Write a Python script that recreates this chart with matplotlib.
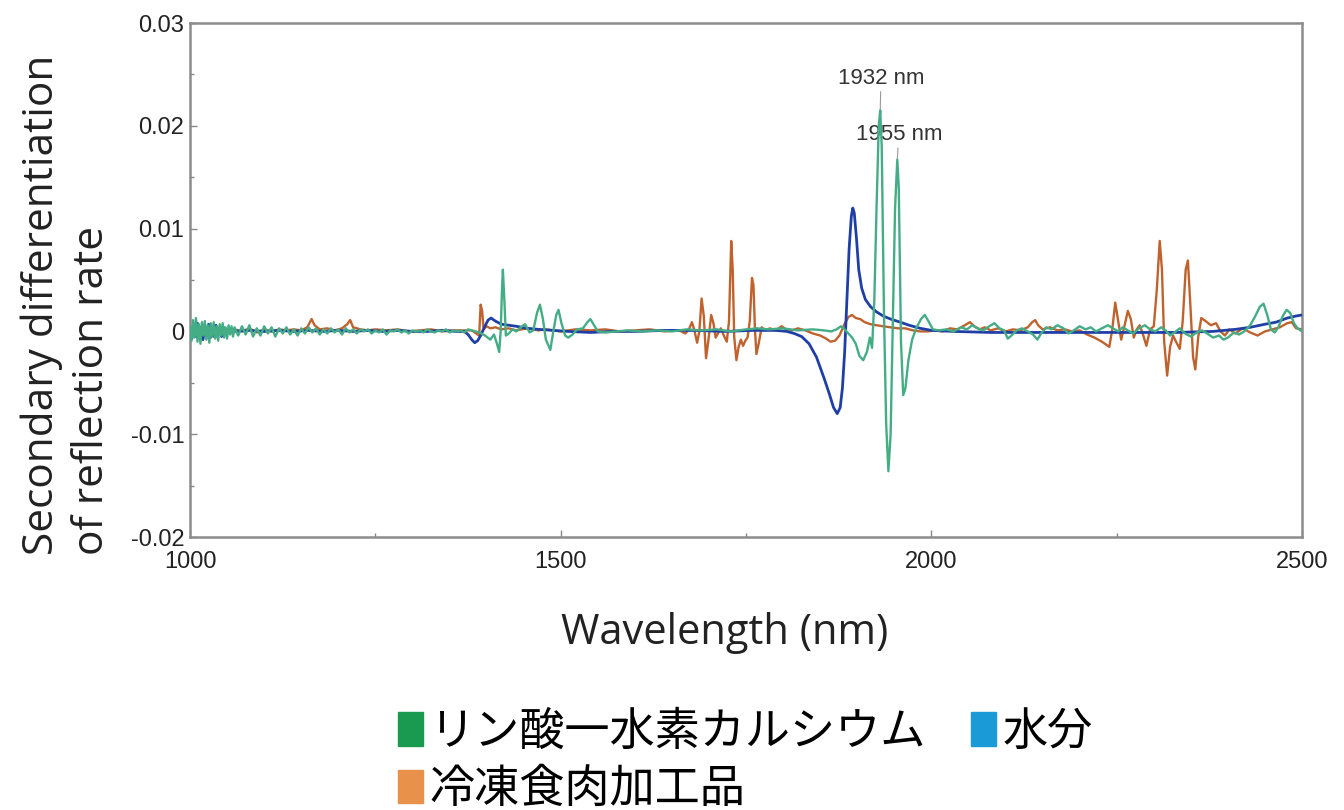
import numpy as np
import matplotlib.pyplot as plt
from matplotlib.patches import Patch
from matplotlib.ticker import MultipleLocator

# calcium hydrogen phosphate (green)
green_wl = [1000, 1002, 1004, 1006, 1008, 1010, 1012, 1014, 1016, 1018, 1020, 1022, 1024, 1026, 1028,
            1030, 1032, 1034, 1036, 1038, 1040, 1042, 1044, 1046, 1048, 1050, 1052, 1054, 1056, 1058,
            1060, 1065, 1070, 1075, 1080, 1085, 1090, 1095, 1100, 1105, 1110, 1115, 1120, 1125, 1130,
            1135, 1140, 1145, 1150, 1155, 1160, 1165, 1170, 1175, 1180, 1185, 1190, 1195, 1200, 1205,
            1210, 1215, 1220, 1225, 1230, 1235, 1240, 1245, 1250, 1255, 1260, 1265, 1270, 1275, 1280,
            1285, 1290, 1295, 1300, 1305, 1310, 1315, 1320, 1325, 1330, 1335, 1340, 1345, 1350, 1355,
            1360, 1365, 1370, 1375, 1380, 1390, 1398, 1405, 1410, 1414, 1417, 1419, 1421, 1422, 1424,
            1426, 1430, 1435, 1440, 1446, 1452, 1458, 1463, 1468, 1472, 1476, 1480, 1486, 1490, 1494,
            1497, 1501, 1506, 1510, 1516, 1522, 1530, 1536, 1540, 1545, 1550, 1560, 1575, 1590, 1610,
            1630, 1650, 1670, 1690, 1710, 1730, 1750, 1765, 1780, 1800, 1820, 1840, 1855, 1865, 1872,
            1878, 1883, 1888, 1893, 1898, 1903, 1908, 1913, 1917, 1920, 1923, 1926, 1929, 1931, 1933,
            1936, 1939, 1942, 1945, 1948, 1951, 1954, 1956, 1959, 1962, 1965, 1969, 1974, 1980, 1986,
            1991, 1996, 2002, 2010, 2020, 2030, 2040, 2048, 2055, 2062, 2070, 2078, 2085, 2092, 2098,
            2103, 2108, 2115, 2122, 2130, 2137, 2143, 2148, 2155, 2162, 2170, 2178, 2185, 2192, 2200,
            2208, 2215, 2222, 2230, 2238, 2245, 2252, 2258, 2265, 2272, 2280, 2288, 2295, 2302, 2310,
            2316, 2322, 2328, 2335, 2342, 2350, 2358, 2365, 2372, 2380, 2388, 2394, 2400, 2408, 2415,
            2422, 2430, 2437, 2443, 2448, 2453, 2458, 2463, 2468, 2474, 2479, 2484, 2489, 2494, 2500]
green_val = [0.0004, -0.0009, 0.0011, -0.0006, 0.0013, -0.0010, 0.0007, -0.0012, 0.0009, -0.0004,
             0.0010, -0.0008, 0.0006, -0.0011, 0.0008, -0.0005, 0.0009, -0.0007, 0.0005, -0.0009,
             0.0007, -0.0004, 0.0008, -0.0006, 0.0004, -0.0007, 0.0006, -0.0003, 0.0005, -0.0005,
             0.0004, -0.0004, 0.0005, -0.0003, 0.0006, -0.0005, 0.0003, -0.0004, 0.0005, -0.0002,
             0.0004, -0.0005, 0.0003, -0.0002, 0.0004, -0.0003, 0.0002, -0.0004, 0.0003, -0.0002,
             0.0004, -0.0001, 0.0003, -0.0003, 0.0002, -0.0002, 0.0003, -0.0001, 0.0002, -0.0003,
             0.0003, -0.0001, 0.0002, -0.0002, 0.0002, 0.0000, 0.0002, -0.0002, 0.0001, -0.0001,
             0.0002, -0.0003, 0.0001, 0.0000, 0.0002, -0.0001, 0.0001, -0.0002, 0.0001, 0.0000,
             0.0001, -0.0001, 0.0002, 0.0000, -0.0001, 0.0001, 0.0000, 0.0002, -0.0001, 0.0001,
             0.0000, 0.0001, -0.0001, 0.0002, 0.0001, -0.0001, -0.0004, -0.0008, -0.0003, -0.0012,
             -0.0020, 0.0000, 0.0045, 0.0060, 0.0030, -0.0004, -0.0002, 0.0002, 0.0000, 0.0004,
             0.0007, -0.0001, 0.0001, 0.0018, 0.0026, 0.0012, -0.0008, -0.0018, 0.0000, 0.0016,
             0.0021, 0.0008, -0.0004, -0.0006, -0.0003, 0.0002, 0.0003, 0.0009, 0.0012, 0.0006,
             0.0000, -0.0001, 0.0000, 0.0001, 0.0000, 0.0001, 0.0000, 0.0002, 0.0001, 0.0002,
             0.0000, 0.0002, 0.0003, 0.0002, 0.0003, 0.0001, 0.0002, 0.0001, 0.0000, 0.0002,
             0.0005, 0.0002, -0.0002, -0.0006, -0.0012, -0.0024, -0.0028, -0.0020, -0.0006, -0.0016,
             0.0030, 0.0120, 0.0200, 0.0215, 0.0180, 0.0020, -0.0090, -0.0136, -0.0100, 0.0010,
             0.0120, 0.0167, 0.0140, -0.0010, -0.0062, -0.0055, -0.0028, -0.0008, 0.0004, 0.0012,
             0.0016, 0.0010, 0.0002, 0.0001, 0.0002, 0.0000, 0.0004, 0.0002, 0.0006, 0.0003,
             0.0001, 0.0005, 0.0008, 0.0003, 0.0001, -0.0007, -0.0004, 0.0001, 0.0003, 0.0000,
             -0.0003, -0.0008, -0.0002, 0.0004, 0.0002, 0.0006, 0.0003, -0.0002, 0.0001, 0.0005,
             0.0002, 0.0004, 0.0000, 0.0003, 0.0006, 0.0003, 0.0000, 0.0004, 0.0001, -0.0002,
             0.0003, 0.0006, 0.0002, 0.0000, 0.0004, 0.0001, -0.0004, -0.0001, 0.0003, -0.0002,
             -0.0005, -0.0001, 0.0001, -0.0002, -0.0006, -0.0004, -0.0008, -0.0006, -0.0001, -0.0003,
             0.0000, 0.0006, 0.0015, 0.0024, 0.0027, 0.0016, 0.0002, -0.0001, 0.0004, 0.0015,
             0.0021, 0.0018, 0.0008, 0.0003, 0.0000]

# frozen processed meat (orange)
orange_wl = [1000, 1010, 1020, 1030, 1040, 1050, 1060, 1070, 1080, 1090, 1100, 1110, 1120, 1130, 1140,
             1150, 1158, 1164, 1168, 1175, 1185, 1195, 1205, 1212, 1216, 1220, 1230, 1240, 1250, 1265,
             1280, 1295, 1310, 1325, 1340, 1355, 1370, 1380, 1386, 1390, 1392, 1394, 1396, 1400, 1405,
             1412, 1420, 1430, 1440, 1455, 1470, 1480, 1500, 1520, 1540, 1560, 1580, 1600, 1620, 1640,
             1655, 1660, 1668, 1673, 1677, 1680, 1684, 1687, 1690, 1693, 1696, 1699, 1703, 1706, 1709,
             1712, 1716, 1720, 1724, 1727, 1730, 1732, 1734, 1737, 1740, 1743, 1746, 1749, 1752, 1755,
             1758, 1760, 1762, 1764, 1767, 1771, 1776, 1782, 1790, 1798, 1804, 1812, 1820, 1830, 1840,
             1850, 1858, 1864, 1870, 1876, 1882, 1888, 1893, 1898, 1904, 1910, 1918, 1926, 1935, 1945,
             1955, 1965, 1975, 1985, 1995, 2005, 2015, 2025, 2035, 2045, 2052, 2058, 2065, 2072, 2080,
             2090, 2100, 2110, 2120, 2130, 2136, 2140, 2144, 2150, 2160, 2170, 2180, 2190, 2200, 2210,
             2220, 2230, 2236, 2240, 2244, 2248, 2252, 2256, 2260, 2265, 2269, 2273, 2277, 2281, 2285,
             2290, 2295, 2300, 2304, 2308, 2311, 2314, 2318, 2322, 2326, 2330, 2335, 2339, 2343, 2346,
             2349, 2353, 2356, 2360, 2364, 2370, 2377, 2384, 2390, 2396, 2402, 2410, 2420, 2430, 2440,
             2450, 2460, 2470, 2480, 2486, 2492, 2500]
orange_val = [0.0002, -0.0003, 0.0003, -0.0002, 0.0004, -0.0001, 0.0002, 0.0000, 0.0003, -0.0001,
              0.0002, 0.0000, 0.0002, 0.0001, 0.0002, 0.0001, 0.0004, 0.0012, 0.0006, 0.0002,
              0.0003, 0.0001, 0.0003, 0.0007, 0.0011, 0.0004, 0.0002, 0.0001, 0.0002, 0.0001,
              0.0002, 0.0000, 0.0001, 0.0002, 0.0000, 0.0001, 0.0001, 0.0001, -0.0002, -0.0004,
              0.0026, 0.0020, 0.0002, 0.0005, 0.0003, 0.0004, 0.0002, 0.0003, 0.0001, 0.0003,
              0.0001, 0.0002, 0.0000, 0.0002, 0.0001, 0.0002, 0.0000, 0.0001, 0.0002, 0.0000,
              0.0001, 0.0001, -0.0002, 0.0002, 0.0009, 0.0002, -0.0011, 0.0000, 0.0032, 0.0015,
              -0.0026, -0.0010, 0.0016, 0.0008, -0.0006, -0.0002, 0.0003, -0.0004, -0.0010, 0.0010,
              0.0088, 0.0060, -0.0005, -0.0028, -0.0015, -0.0008, -0.0014, -0.0009, -0.0006, 0.0010,
              0.0052, 0.0045, 0.0002, -0.0022, -0.0012, 0.0004, 0.0001, 0.0003, 0.0001, 0.0005,
              0.0002, 0.0001, 0.0003, 0.0001, -0.0002, -0.0004, -0.0007, -0.0010, -0.0009, -0.0004,
              0.0006, 0.0014, 0.0016, 0.0013, 0.0012, 0.0009, 0.0007, 0.0006, 0.0005, 0.0004,
              0.0003, 0.0003, 0.0001, 0.0000, 0.0000, 0.0001, 0.0000, 0.0003, 0.0002, 0.0006,
              0.0009, 0.0005, 0.0002, 0.0004, 0.0001, 0.0003, 0.0000, 0.0002, 0.0001, 0.0004,
              0.0009, 0.0011, 0.0006, 0.0002, 0.0004, 0.0001, 0.0002, 0.0000, 0.0001, -0.0003,
              -0.0006, -0.0010, -0.0013, -0.0015, 0.0002, 0.0028, 0.0010, -0.0008, 0.0004, 0.0020,
              0.0012, -0.0006, 0.0002, 0.0006, -0.0002, -0.0014, 0.0002, 0.0005, 0.0040, 0.0088,
              0.0060, -0.0010, -0.0043, -0.0015, -0.0004, -0.0010, -0.0017, 0.0010, 0.0060, 0.0069,
              0.0030, -0.0025, -0.0037, -0.0005, 0.0013, 0.0010, 0.0006, 0.0008, 0.0000, -0.0004,
              0.0002, -0.0002, 0.0003, -0.0001, -0.0004, 0.0000, 0.0002, 0.0004, 0.0008, 0.0009,
              0.0003, 0.0002]

# water (blue)
blue_wl = [1000, 1002.5, 1005, 1007.5, 1010, 1012.5, 1015, 1017.5, 1020, 1022.5, 1025, 1027.5, 1030,
           1032.5, 1035, 1037.5, 1040, 1042.5, 1045, 1047.5, 1050, 1060, 1080, 1100, 1120, 1140, 1160,
           1180, 1200, 1220, 1240, 1260, 1280, 1300, 1320, 1340, 1360, 1370, 1375, 1380, 1384, 1388,
           1392, 1397, 1402, 1406, 1412, 1420, 1430, 1440, 1455, 1470, 1490, 1510, 1540, 1570, 1600,
           1640, 1680, 1720, 1760, 1790, 1805, 1815, 1825, 1835, 1845, 1855, 1862, 1868, 1873, 1877,
           1880, 1883, 1886, 1889, 1892, 1894, 1896, 1899, 1902, 1906, 1911, 1918, 1926, 1935, 1945,
           1958, 1970, 1985, 2000, 2030, 2080, 2130, 2180, 2230, 2280, 2330, 2380, 2410, 2430, 2450,
           2465, 2480, 2492, 2500]
blue_val = [0.0003, -0.0007, 0.0006, -0.0005, 0.0008, -0.0006, 0.0004, -0.0008, 0.0005, -0.0003,
            0.0007, -0.0006, 0.0004, -0.0005, 0.0006, -0.0004, 0.0003, -0.0005, 0.0004, -0.0002,
            0.0002, 0.0000, 0.0001, 0.0000, 0.0001, 0.0000, 0.0001, 0.0000, 0.0001, 0.0000,
            0.0001, 0.0000, 0.0001, 0.0000, 0.0000, 0.0001, 0.0000, 0.0000, -0.0003, -0.0008,
            -0.0011, -0.0009, -0.0004, 0.0004, 0.0011, 0.0013, 0.0010, 0.0007, 0.0006, 0.0005,
            0.0003, 0.0002, 0.0001, 0.0000, -0.0001, 0.0000, 0.0000, 0.0001, 0.0001, 0.0000,
            0.0001, 0.0001, 0.0000, -0.0002, -0.0005, -0.0012, -0.0025, -0.0045, -0.0060, -0.0074,
            -0.0080, -0.0074, -0.0055, -0.0020, 0.0030, 0.0080, 0.0112, 0.0120, 0.0115, 0.0090,
            0.0060, 0.0042, 0.0031, 0.0024, 0.0019, 0.0015, 0.0012, 0.0009, 0.0006, 0.0003,
            0.0001, 0.0000, -0.0001, -0.0001, -0.0001, -0.0001, -0.0001, -0.0001, 0.0000, 0.0002,
            0.0004, 0.0007, 0.0009, 0.0013, 0.0015, 0.0016]

legend_labels = ['リン酸一水素カルシウム', '水分', '冷凍食肉加工品']
peak_labels = ['1932 nm', '1955 nm']

fig = plt.figure(figsize=(13.44, 8.1), dpi=100)
ax = fig.add_axes([0.1414, 0.337, 0.8274, 0.6346])

ax.plot(orange_wl, orange_val, color='#c0622e', lw=1.7, zorder=2)
ax.plot(blue_wl, blue_val, color='#1f3fa6', lw=2.0, zorder=3)
ax.plot(green_wl, green_val, color='#45ad86', lw=1.7, zorder=4)

# peak labels with thin gray leader lines
ax.annotate(peak_labels[0], xy=(1931, 0.0215), xytext=(1932, 0.0236),
            ha='center', va='bottom', fontsize=16, family='Liberation Sans', color='#333333',
            arrowprops=dict(arrowstyle='-', color='#999999', lw=0.8, shrinkA=0, shrinkB=0))
ax.annotate(peak_labels[1], xy=(1954, 0.0167), xytext=(1956, 0.0181),
            ha='center', va='bottom', fontsize=16, family='Liberation Sans', color='#333333',
            arrowprops=dict(arrowstyle='-', color='#999999', lw=0.8, shrinkA=0, shrinkB=0))

ax.set_xlim(1000, 2500)
ax.set_ylim(-0.02, 0.03)
ax.set_xticks([1000, 1500, 2000, 2500])
ax.set_yticks([-0.02, -0.01, 0, 0.01, 0.02, 0.03])
ax.set_yticklabels(['-0.02', '-0.01', '0', '0.01', '0.02', '0.03'])
ax.xaxis.set_minor_locator(MultipleLocator(250))
ax.yaxis.set_minor_locator(MultipleLocator(0.005))
ax.tick_params(which='both', direction='in', color='#888888', labelsize=17,
               labelcolor='#222222')
ax.tick_params(which='major', length=5, width=1)
ax.tick_params(which='minor', length=3, width=1)
ax.tick_params(axis='x', pad=10)
ax.tick_params(axis='y', pad=4)
for lab in ax.get_xticklabels() + ax.get_yticklabels():
    lab.set_family('Liberation Sans')
for sp in ax.spines.values():
    sp.set_color('#8c8c8c')
    sp.set_linewidth(1.8)

fig.text(0.539, 0.219, 'Wavelength (nm)', ha='center', va='center', fontsize=30,
         family='Open Sans', color='#222222')
fig.text(0.050, 0.624, 'Secondary differentiation\nof reflection rate', rotation=90,
         ha='center', va='center', fontsize=30.5, family='Open Sans', color='#222222',
         multialignment='left', linespacing=1.25)

handles = [Patch(color='#1a9a50'), Patch(color='#e8914a'), Patch(color='#1a9ad6')]
labels = [legend_labels[0], legend_labels[2], legend_labels[1]]
fig.legend(handles, labels, loc='upper left', bbox_to_anchor=(0.296, 0.125), ncol=2,
           frameon=False, prop={'family': ['Noto Sans CJK JP', 'DejaVu Sans'], 'size': 32.5},
           handlelength=0.55, handleheight=0.75, handletextpad=0.15, columnspacing=1.0,
           labelspacing=0.25, borderpad=0, borderaxespad=0)

fig.savefig('out.png', dpi=100)
